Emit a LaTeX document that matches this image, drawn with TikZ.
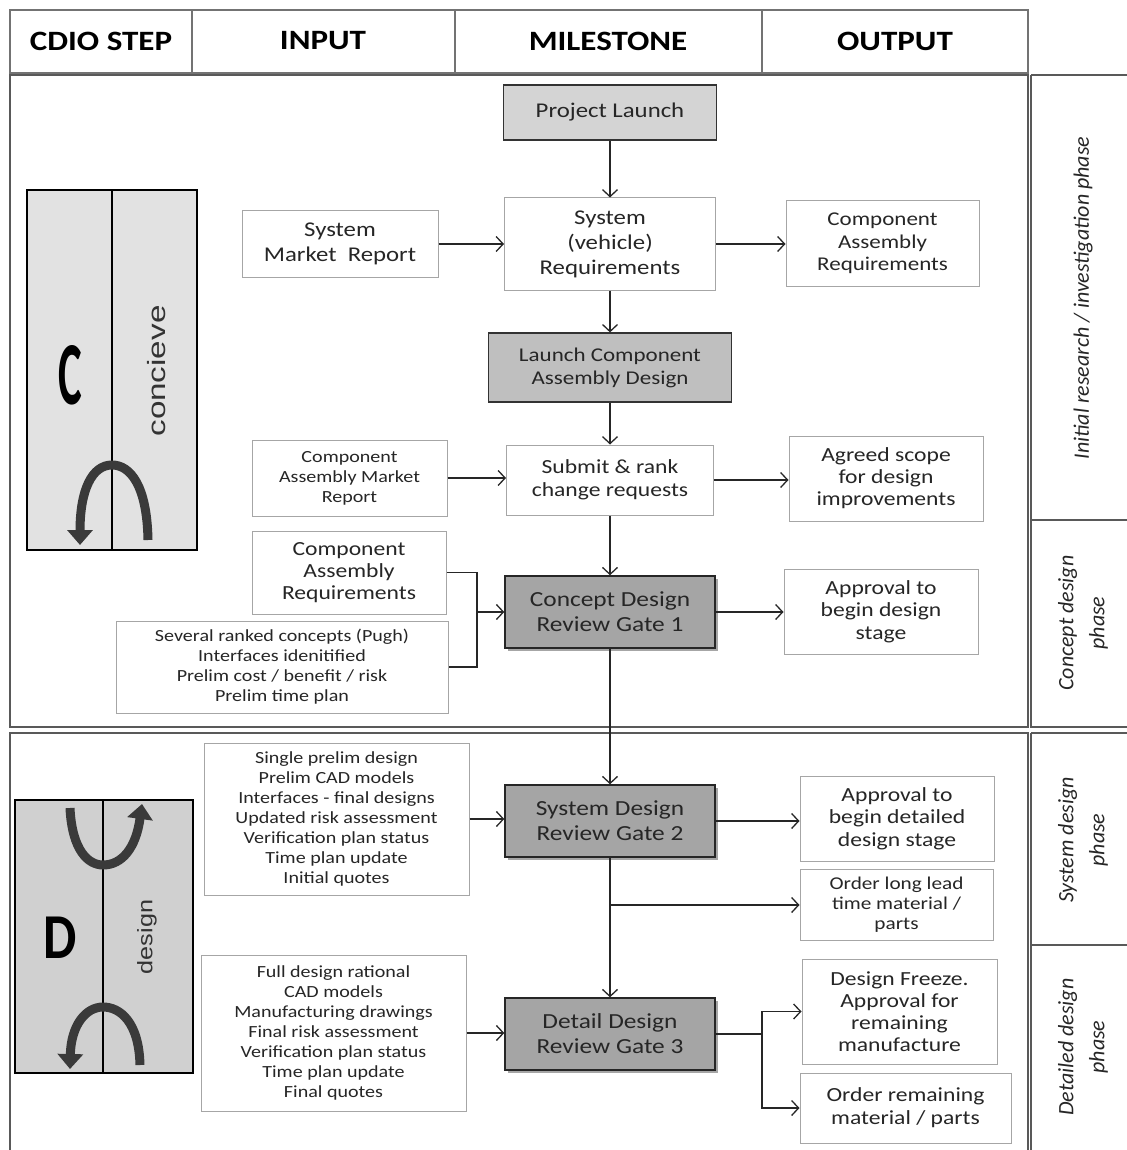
\documentclass[tikz,border=0pt]{standalone}
\usepackage{fontspec}
\setmainfont{Carlito}[FakeStretch=1.18]
\newfontfamily\rotfont{Carlito}
\newfontfamily\arialfont{Liberation Sans}
\usetikzlibrary{arrows.meta,shadows,calc}
\definecolor{txt}{HTML}{262626}
\definecolor{boxline}{HTML}{A6A6A6}
\definecolor{plfill}{HTML}{D4D4D4}
\definecolor{lcfill}{HTML}{BFBFBF}
\definecolor{gatefill}{HTML}{A5A5A5}
\definecolor{cfill}{HTML}{E2E2E2}
\definecolor{dfill}{HTML}{D0D0D0}
\definecolor{arrowc}{HTML}{3A3A3A}
\tikzset{
  fs/.style n args={2}{font=\fontsize{#1}{#2}\selectfont},
  box/.style={draw=boxline, line width=1pt, fill=white, align=center, text=txt, inner sep=2pt},
  msbox/.style={box, draw=black!80, line width=1.2pt},
  gate/.style={draw=black!85, line width=1.4pt, fill=gatefill, align=center, text=txt, inner sep=2pt,
    drop shadow={shadow xshift=3pt, shadow yshift=-3pt, opacity=0.35, fill=black}},
  conn/.style={draw=black!85, line width=1.3pt},
  arr/.style={conn, -{Straight Barb[length=7pt,width=15pt,line width=1.3pt]}},
  uarrow/.style={draw=arrowc, line width=9pt, -{Triangle[length=15pt,width=25pt]}},
  panel/.style={draw=black!65, line width=1.6pt},
  hdr/.style={font=\fontsize{28}{30}\selectfont\bfseries, text=black},
  rotlab/.style={rotate=90, align=center, text=txt, font=\rotfont\itshape\fontsize{22}{31}\selectfont},
}
\begin{document}
\begin{tikzpicture}[x=1pt, y=-1pt]
\useasboundingbox (0,0) rectangle (1126,1150);
% header
\draw[draw=black!55, line width=2pt] (10,10) rectangle (1028,73);
\foreach \xx in {192,455,762} \draw[draw=black!55, line width=2pt] (\xx,10) -- (\xx,73);
\node[hdr] (h1) at (101,41) {CDIO STEP};
\node[hdr] (h2) at (323,41) {INPUT};
\node[hdr] (h3) at (608,41) {MILESTONE};
\node[hdr] (h4) at (895,41) {OUTPUT};
% panels
\draw[panel] (10,75) rectangle (1028,727);
\draw[panel] (10,1152) -- (10,733) -- (1028,733) -- (1028,1152);
\draw[panel] (1031,75) -- (1128,75);
\draw[panel] (1031,75) -- (1031,727) -- (1128,727);
\draw[panel] (1031,520) -- (1128,520);
\draw[panel] (1031,733) -- (1128,733);
\draw[panel] (1031,733) -- (1031,1152);
\draw[panel] (1031,945) -- (1128,945);
% phase labels
\node[rotlab] (p1) at (1083,298) {Initial research / investigation phase};
\node[rotlab] (p2) at (1083,623) {Concept design\\phase};
\node[rotlab] (p3) at (1083,840) {System design\\phase};
\node[rotlab] (p4) at (1083,1047) {Detailed design\\phase};
% sidebar C
\fill[cfill] (27,190) rectangle (197,550);
\draw[line width=1.3pt] (27,190) rectangle (197,550);
\draw[line width=1.3pt] (112,190) -- (112,550);
\node[text=black, font=\fontsize{90}{90}\selectfont\bfseries] (cl) at (70,375) {\scalebox{0.42}[1]{C}};
\node[rotate=90, text=black!80, font=\arialfont\fontsize{25}{25}\selectfont] (cw) at (157,371) {\scalebox{1.33}[1]{concieve}};
\draw[uarrow] (148,540) .. controls (147,485) and (130,465) .. (112,465) .. controls (92,465) and (80,490) .. (80,545);
% sidebar D
\fill[dfill] (15,800) rectangle (193,1073);
\draw[line width=1.3pt] (15,800) rectangle (193,1073);
\draw[line width=1.3pt] (103,800) -- (103,1073);
\node[text=black, font=\fontsize{64}{64}\selectfont\bfseries] (dl) at (60,938) {\scalebox{0.7}[1]{D}};
\node[rotate=90, text=black!80, font=\arialfont\fontsize{21}{21}\selectfont] (dw) at (147,937) {\scalebox{1.2}[1]{design}};
\draw[uarrow] (70,808) .. controls (72,850) and (88,865) .. (103,865) .. controls (122,865) and (136,848) .. (142,804);
\draw[uarrow] (140,1065) .. controls (139,1022) and (120,1007) .. (103,1007) .. controls (86,1007) and (71,1025) .. (70,1069);
% milestones
\node[msbox, fill=plfill, fs={21}{25}, minimum width=213pt, minimum height=55pt] (pl) at (610,112.5) {Project Launch};
\node[box, fs={21}{25}, minimum width=211pt, minimum height=92pt] (sr) at (610,244) {System\\(vehicle)\\Requirements};
\node[msbox, fill=lcfill, fs={19.5}{23}, minimum width=243pt, minimum height=69pt] (lc) at (610,367.5) {Launch Component\\Assembly Design};
\node[box, fs={20}{23}, minimum width=207pt, minimum height=70pt] (sb) at (610,480) {Submit \& rank\\change requests};
\node[gate, fs={21.5}{25}, minimum width=210pt, minimum height=72pt] (g1) at (610,612) {Concept Design\\Review Gate 1};
\node[gate, fs={21.5}{25}, minimum width=210pt, minimum height=72pt] (g2) at (610,821) {System Design\\Review Gate 2};
\node[gate, fs={21.5}{25}, minimum width=210pt, minimum height=72pt] (g3) at (610,1034) {Detail Design\\Review Gate 3};
% inputs
\node[box, fs={21}{25}, minimum width=196pt, minimum height=66pt] (smr) at (340,244) {System\\Market\ \ Report};
\node[box, fs={17}{20}, minimum width=195pt, minimum height=76pt] (camr) at (349.5,478) {Component\\Assembly Market\\Report};
\node[box, fs={20}{22}, minimum width=194pt, minimum height=83pt] (cari) at (349,572.5) {Component\\Assembly\\Requirements};
\node[box, fs={17}{20}, minimum width=332pt, minimum height=92pt] (sev) at (282,667) {Several ranked concepts (Pugh)\\Interfaces idenitified\\Prelim cost / benefit / risk\\Prelim time plan};
\node[box, fs={17}{20}, minimum width=265pt, minimum height=152pt] (spd) at (336.5,819) {Single prelim design\\Prelim CAD models\\Interfaces - final designs\\Updated risk assessment\\Verification plan status\\Time plan update\\Initial quotes};
\node[box, fs={17}{20}, minimum width=265pt, minimum height=156pt] (fdr) at (333.5,1033) {Full design rational\\CAD models\\Manufacturing drawings\\Final risk assessment\\Verification plan status\\Time plan update\\Final quotes};
% outputs
\node[box, fs={19.5}{22.5}, minimum width=193pt, minimum height=85pt] (caro) at (882.5,243.5) {Component\\Assembly\\Requirements};
\node[box, fs={20}{22}, minimum width=194pt, minimum height=85pt] (agr) at (886,478.5) {Agreed scope\\for design\\improvements};
\node[box, fs={20}{22.5}, minimum width=194pt, minimum height=85pt] (ap1) at (881,611.5) {Approval to\\begin design\\stage};
\node[box, fs={20}{22.5}, minimum width=194pt, minimum height=85pt] (ap2) at (897,818.5) {Approval to\\begin detailed\\design stage};
\node[box, fs={18}{20}, minimum width=193pt, minimum height=71pt] (oll) at (896.5,904.5) {Order long lead\\time material /\\parts};
\node[box, fs={20}{22}, minimum width=195pt, minimum height=105pt] (dfz) at (899.5,1011.5) {Design Freeze.\\Approval for\\remaining\\manufacture};
\node[box, fs={20}{23}, minimum width=211pt, minimum height=70pt] (orm) at (905.5,1108) {Order remaining\\material / parts};
% connectors
\draw[arr] (pl.south) -- (sr.north);
\draw[arr] (smr.east) -- (smr.east -| sr.west);
\draw[arr] (sr.east) -- (sr.east -| caro.west);
\draw[arr] (sr.south) -- (lc.north);
\draw[arr] (lc.south) -- (sb.north);
\draw[arr] (camr.east) -- (camr.east -| sb.west);
\draw[arr] (sb.east) -- (sb.east -| agr.west);
\draw[arr] (sb.south) -- (g1.north);
\coordinate (bj) at (477,612);
\draw[conn] (cari.east) -- (cari.east -| bj) -- (sev.east -| bj) -- (sev.east);
\draw[arr] (bj) -- (g1.west);
\draw[arr] (g1.east) -- (g1.east -| ap1.west);
\draw[arr] (g1.south) -- (g2.north);
\draw[arr] (spd.east) -- (spd.east -| g2.west);
\draw[arr] (g2.east) -- (g2.east -| ap2.west);
\draw[arr] (g2.south) -- (g3.north);
\coordinate (br) at (610,905);
\draw[arr] (br) -- (br -| oll.west);
\draw[arr] (fdr.east) -- (fdr.east -| g3.west);
\coordinate (sp) at (762,1034);
\draw[conn] (g3.east) -- (sp);
\draw[arr] (sp) |- (dfz.west);
\draw[arr] (sp) |- (orm.west);
\end{tikzpicture}
\end{document}
